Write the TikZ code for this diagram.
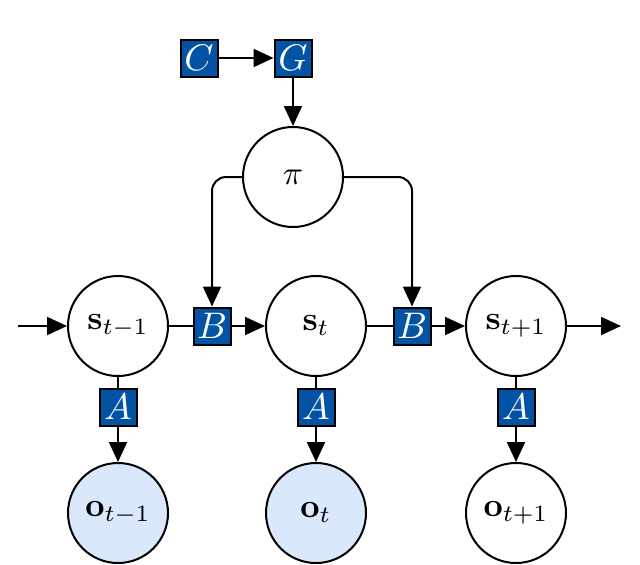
\documentclass[tikz,border=0pt]{standalone}
\usepackage{graphicx}
\usetikzlibrary{arrows.meta}
\definecolor{boxblue}{HTML}{0353A4}
\definecolor{obsblue}{HTML}{DAE8FC}
\newcommand{\vtxt}[1]{\scalebox{3.35}{$#1$}}
\newcommand{\mtxt}[1]{\scalebox{3.7}{$#1$}}
\begin{document}
\begin{tikzpicture}[x=1pt,y=-1pt,
  var/.style={circle,draw=black,line width=2pt,fill=white,minimum size=100pt,inner sep=0pt},
  obs/.style={var,fill=obsblue},
  mat/.style={rectangle,draw=black,line width=2pt,fill=boxblue,text=white,minimum size=37pt,inner sep=0pt},
  conn/.style={line width=2pt},
  arr/.style={conn,-{Triangle[length=20pt,width=18pt]}},
]
\useasboundingbox (0,0) rectangle (640,565);
\node[mat] (C) at (199,58) {\mtxt{C}};
\node[mat] (G) at (293,58) {\mtxt{G}};
\node[var] (pi) at (293,177) {\vtxt{\pi}};
\node[var] (s1) at (118,326) {\vtxt{\mathbf{s}_{t-1}}};
\node[var] (s2) at (316,326) {\vtxt{\mathbf{s}_{t}}};
\node[var] (s3) at (516,326) {\vtxt{\mathbf{s}_{t+1}}};
\node[mat] (B1) at (212,326) {\mtxt{B}};
\node[mat] (B2) at (412,326) {\mtxt{B}};
\node[mat] (A1) at (118,407) {\mtxt{A}};
\node[mat] (A2) at (316,407) {\mtxt{A}};
\node[mat] (A3) at (516,407) {\mtxt{A}};
\node[obs] (o1) at (118,513) {\vtxt{\mathbf{o}_{t-1}}};
\node[obs] (o2) at (316,513) {\vtxt{\mathbf{o}_{t}}};
\node[var] (o3) at (516,513) {\vtxt{\mathbf{o}_{t+1}}};
\coordinate (in) at (18,326);
\coordinate (out) at (621,326);

\draw[arr] (C) -- (G);
\draw[arr] (G) -- (pi);
\draw[arr,rounded corners=14pt] (pi.west) -| (B1.north);
\draw[arr,rounded corners=14pt] (pi.east) -| (B2.north);
\draw[arr] (in) -- (s1);
\draw[conn] (s1) -- (B1);
\draw[arr] (B1) -- (s2);
\draw[conn] (s2) -- (B2);
\draw[arr] (B2) -- (s3);
\draw[arr] (s3) -- (out);
\draw[conn] (s1) -- (A1);
\draw[conn] (s2) -- (A2);
\draw[conn] (s3) -- (A3);
\draw[arr] (A1) -- (o1);
\draw[arr] (A2) -- (o2);
\draw[arr] (A3) -- (o3);
\end{tikzpicture}
\end{document}
